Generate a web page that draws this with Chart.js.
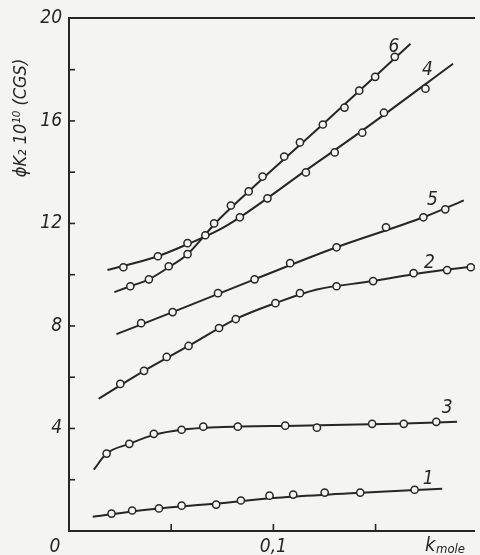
<!DOCTYPE html>
<html>
<head>
<meta charset="utf-8">
<script src="https://cdn.jsdelivr.net/npm/chart.js@4.4.1/dist/chart.umd.min.js"></script>
<style>
  html, body { margin: 0; padding: 0; background: #f4f4f1; }
  #wrap { width: 480px; height: 555px; }
</style>
</head>
<body>
<div id="wrap"><canvas id="kChart" width="480" height="555"></canvas></div>
<script>
  // measured points (open circles), k in mole and phi K2 * 10^10
  const k1 = [0.0208, 0.0309, 0.0440, 0.0551, 0.0720, 0.0841, 0.0981, 0.1097, 0.1251, 0.1425, 0.1691];
  const phi1 = [0.68, 0.80, 0.88, 0.99, 1.03, 1.19, 1.38, 1.42, 1.50, 1.50, 1.61];
  const k2 = [0.0251, 0.0367, 0.0478, 0.0585, 0.0734, 0.0816, 0.1010, 0.1130, 0.1309, 0.1488, 0.1686, 0.1850, 0.1966];
  const phi2 = [5.74, 6.25, 6.79, 7.22, 7.92, 8.27, 8.89, 9.28, 9.55, 9.75, 10.06, 10.18, 10.29];
  const k3 = [0.0184, 0.0295, 0.0415, 0.0551, 0.0657, 0.0826, 0.1058, 0.1213, 0.1483, 0.1638, 0.1797];
  const phi3 = [3.02, 3.40, 3.79, 3.95, 4.07, 4.07, 4.11, 4.03, 4.18, 4.18, 4.26];
  const k4 = [0.0266, 0.0435, 0.0580, 0.0667, 0.0836, 0.0971, 0.1159, 0.1300, 0.1435, 0.1541, 0.1744];
  const phi4 = [10.29, 10.72, 11.23, 11.54, 12.24, 12.98, 13.99, 14.77, 15.54, 16.32, 17.26];
  const k5 = [0.0353, 0.0507, 0.0729, 0.0908, 0.1082, 0.1309, 0.1551, 0.1734, 0.1841];
  const phi5 = [8.11, 8.54, 9.28, 9.82, 10.45, 11.07, 11.85, 12.24, 12.55];
  const k6 = [0.0300, 0.0391, 0.0488, 0.0580, 0.0710, 0.0792, 0.0879, 0.0947, 0.1053, 0.1130, 0.1242, 0.1348, 0.1420, 0.1498, 0.1594];
  const phi6 = [9.55, 9.82, 10.33, 10.80, 12.00, 12.70, 13.25, 13.83, 14.61, 15.16, 15.86, 16.52, 17.18, 17.72, 18.50];

  // drawn curves
  const curveK1 = [0.0116, 0.0391, 0.0720, 0.1019, 0.1357, 0.1826];
  const curvePhi1 = [0.56, 0.84, 1.07, 1.30, 1.46, 1.65];
  const curveK2 = [0.0145, 0.0367, 0.0585, 0.0816, 0.1010, 0.1213, 0.1488, 0.1686, 0.1986];
  const curvePhi2 = [5.16, 6.25, 7.22, 8.27, 8.89, 9.42, 9.75, 10.02, 10.33];
  const curveK3 = [0.0121, 0.0184, 0.0295, 0.0415, 0.0551, 0.0729, 0.1116, 0.1599, 0.1899];
  const curvePhi3 = [2.39, 3.02, 3.40, 3.75, 3.95, 4.05, 4.11, 4.18, 4.26];
  const curveK4 = [0.0188, 0.0435, 0.0580, 0.0729, 0.0836, 0.1159, 0.1435, 0.1879];
  const curvePhi4 = [10.18, 10.72, 11.19, 11.73, 12.24, 14.07, 15.62, 18.23];
  const curveK5 = [0.0232, 0.0507, 0.0908, 0.1309, 0.1734, 0.1932];
  const curvePhi5 = [7.68, 8.54, 9.82, 11.07, 12.24, 12.90];
  const curveK6 = [0.0222, 0.0300, 0.0391, 0.0488, 0.0580, 0.0647, 0.0710, 0.0879, 0.1261, 0.1671];
  const curvePhi6 = [9.32, 9.55, 9.82, 10.29, 10.80, 11.38, 11.96, 13.25, 16.01, 19.01];

  // curve numbers and where they are written
  const curveNames = ['1', '2', '3', '4', '5', '6'];
  const nameK = [0.1758, 0.1763, 0.1850, 0.1754, 0.1778, 0.1590];
  const namePhi = [2.04, 10.45, 4.80, 18.00, 12.90, 18.90];

  const xTickLabels = { '0.1': '0,1' };
  const yTickLabels = [4, 8, 12, 16, 20];

  const ink = '#262626';
  const papel = '#f4f4f1';
  const fonte = '"Liberation Sans Narrow", "DejaVu Sans Condensed", "Liberation Sans", sans-serif';

  function serie(ks, phis) {
    return ks.map((k, i) => ({ x: k, y: phis[i] }));
  }

  function curva(ks, phis) {
    return {
      data: serie(ks, phis),
      showLine: true,
      order: 2,
      borderColor: ink,
      borderWidth: 2,
      cubicInterpolationMode: 'monotone',
      pointRadius: 0,
      pointHoverRadius: 0
    };
  }

  function pontos(ks, phis) {
    return {
      data: serie(ks, phis),
      showLine: false,
      order: 1,
      pointBackgroundColor: papel,
      pointBorderColor: ink,
      pointBorderWidth: 1.5,
      pointRadius: 3.6,
      pointHoverRadius: 3.6
    };
  }

  // inward tick marks, corner zero, axis titles and curve numbers
  const enfeites = {
    id: 'enfeites',
    afterDraw(chart) {
      const ctx = chart.ctx;
      const a = chart.chartArea;
      const x = chart.scales.x;
      const y = chart.scales.y;
      ctx.save();
      ctx.strokeStyle = ink;
      ctx.lineWidth = 1.6;
      x.ticks.forEach(t => {
        const passo = Math.round(t.value / 0.05);
        if (t.value <= 0 || Math.abs(t.value - passo * 0.05) > 1e-6) return;
        const px = x.getPixelForValue(t.value);
        ctx.beginPath();
        ctx.moveTo(px, a.bottom);
        ctx.lineTo(px, a.bottom - 7);
        ctx.stroke();
      });
      y.ticks.forEach(t => {
        if (t.value <= 0 || t.value >= 20) return;
        const py = y.getPixelForValue(t.value);
        ctx.beginPath();
        ctx.moveTo(a.left, py);
        ctx.lineTo(a.left + 6, py);
        ctx.stroke();
      });

      ctx.fillStyle = ink;
      ctx.font = 'italic 19px ' + fonte;
      ctx.textAlign = 'center';
      ctx.textBaseline = 'middle';
      ctx.fillText('0', a.left - 14, a.bottom + 16);

      curveNames.forEach((n, i) => {
        ctx.fillText(n, x.getPixelForValue(nameK[i]), y.getPixelForValue(namePhi[i]));
      });

      // k_mole
      ctx.textAlign = 'left';
      ctx.font = 'italic 20px ' + fonte;
      ctx.fillText('k', 425, a.bottom + 15);
      ctx.font = 'italic 13px ' + fonte;
      ctx.fillText('mole', 436, a.bottom + 19);

      // y title
      ctx.translate(21, 118);
      ctx.rotate(-Math.PI / 2);
      ctx.textAlign = 'center';
      ctx.font = 'italic 18px ' + fonte;
      ctx.fillText('\u03D5K\u2082 10\u00B9\u2070 (CGS)', 0, 0);
      ctx.restore();
    }
  };

  function gerarGrafico() {
    const ctx = document.getElementById('kChart').getContext('2d');

    new Chart(ctx, {
      type: 'scatter',
      data: {
        datasets: [
          pontos(k1, phi1),
          pontos(k2, phi2),
          pontos(k3, phi3),
          pontos(k4, phi4),
          pontos(k5, phi5),
          pontos(k6, phi6),
          curva(curveK1, curvePhi1),
          curva(curveK2, curvePhi2),
          curva(curveK3, curvePhi3),
          curva(curveK4, curvePhi4),
          curva(curveK5, curvePhi5),
          curva(curveK6, curvePhi6)
        ]
      },
      options: {
        responsive: false,
        animation: false,
        layout: { padding: 0 },
        plugins: {
          legend: { display: false },
          tooltip: { enabled: false }
        },
        scales: {
          x: {
            type: 'linear',
            position: 'bottom',
            min: 0,
            max: 0.1986,
            afterFit: s => { s.height = 24; },
            grid: { display: false, drawTicks: false },
            border: { display: true, color: ink, width: 2 },
            ticks: {
              stepSize: 0.05,
              padding: 5,
              color: ink,
              font: { family: fonte, size: 19, style: 'italic' },
              callback: v => xTickLabels[String(Math.round(v * 100) / 100)] || ''
            }
          },
          xTop: {
            type: 'linear',
            position: 'top',
            min: 0,
            max: 0.1986,
            afterFit: s => { s.height = 17; },
            grid: { display: false, drawTicks: false },
            border: { display: true, color: ink, width: 2 },
            ticks: { display: false }
          },
          y: {
            min: 0,
            max: 20,
            afterFit: s => { s.width = 69; },
            grid: { display: false, drawTicks: false },
            border: { display: true, color: ink, width: 2 },
            ticks: {
              stepSize: 2,
              padding: 7,
              color: ink,
              font: { family: fonte, size: 19, style: 'italic' },
              callback: v => yTickLabels.includes(v) ? String(v) : ''
            }
          }
        }
      },
      plugins: [enfeites]
    });
  }

  gerarGrafico();
</script>
</body>
</html>
